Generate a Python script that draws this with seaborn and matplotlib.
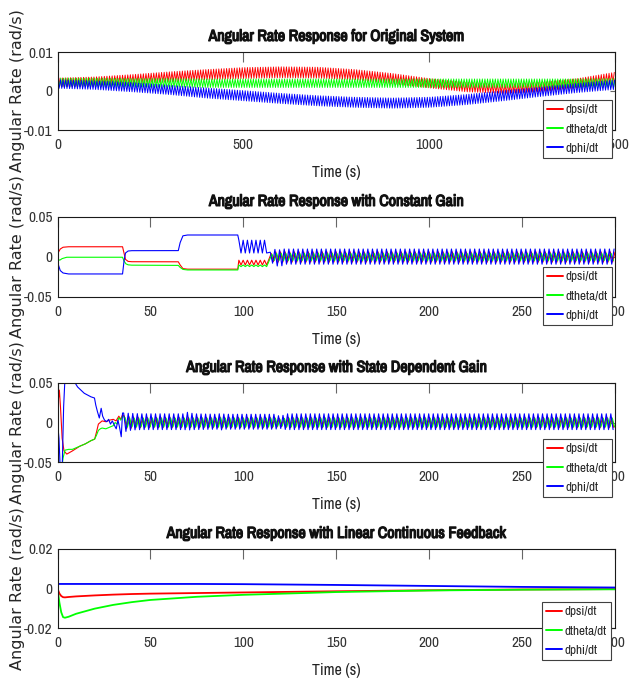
import numpy as np
import pandas as pd
import matplotlib
matplotlib.use("Agg")
import matplotlib.pyplot as plt
import matplotlib.patheffects as pe
import seaborn as sns
from matplotlib import font_manager as fm
from matplotlib.ticker import FixedLocator, FixedFormatter

# ---------------- data ----------------
SERIES = ["dpsi/dt", "dtheta/dt", "dphi/dt"]
COLORS = ["#ff0000", "#00ff00", "#0000ff"]
TITLES = ["Angular Rate Response for Original System",
          "Angular Rate Response with Constant Gain",
          "Angular Rate Response with State Dependent Gain",
          "Angular Rate Response with Linear Continuous Feedback"]
XLABEL = "Time (s)"
YLABEL = "Angular Rate (rad/s)"

# Panel 1: dense oscillation -> envelope centre / half amplitude, period
P1_T = [0, 100, 200, 300, 400, 500, 600, 700, 800, 900, 1000, 1100, 1200, 1300, 1400, 1500]
psi1_c = [0.0022, 0.0025, 0.0030, 0.0036, 0.0042, 0.0046, 0.0048, 0.0047, 0.0042, 0.0032,
          0.0020, 0.0010, 0.0006, 0.0010, 0.0020, 0.0035]
theta1_c = [0.0022, 0.0022, 0.0021, 0.0021, 0.0020, 0.0020, 0.0020, 0.0020, 0.0020, 0.0020,
            0.0020, 0.0020, 0.0020, 0.0020, 0.0020, 0.0021]
phi1_c = [0.0018, 0.0015, 0.0010, 0.0003, -0.0005, -0.0012, -0.0019, -0.0025, -0.0029, -0.0031,
          -0.0029, -0.0022, -0.0012, -0.0002, 0.0008, 0.0016]
psi1_a = [0.0011, 0.0011, 0.0012, 0.0013, 0.0013, 0.0014, 0.0014, 0.0014, 0.0013, 0.0013,
          0.0012, 0.0012, 0.0012, 0.0012, 0.0012, 0.0013]
theta1_a = [0.0011] * 16
phi1_a = [0.0011, 0.0011, 0.0012, 0.0012, 0.0013, 0.0013, 0.0013, 0.0013, 0.0013, 0.0013,
          0.0013, 0.0013, 0.0013, 0.0012, 0.0012, 0.0012]
P1_PERIOD = 7.0

# Panel 2: constant gain, smooth part (t, value)
psi2_t = [0, 0.5, 1.5, 3, 6, 35, 35.8, 36.6, 38, 40, 65, 66, 67.5, 70, 97]
psi2_v = [0, 0.006, 0.010, 0.0122, 0.0128, 0.0128, 0.005, -0.003, -0.0055, -0.0059, -0.0060,
          -0.010, -0.0145, -0.0152, -0.0152]
theta2_t = [0, 0.5, 1.2, 2.5, 5, 35, 35.8, 36.8, 38, 40, 65, 66, 67.5, 70, 97]
theta2_v = [0, -0.003, -0.004, -0.002, -0.0003, -0.0003, -0.005, -0.0085, -0.0098, -0.0102,
            -0.0105, -0.013, -0.0155, -0.0162, -0.0162]
phi2_t = [0, 0.5, 1.5, 3, 6, 35, 35.8, 36.6, 38, 40, 65, 66, 67.5, 70, 97]
phi2_v = [0, -0.010, -0.017, -0.020, -0.0212, -0.0212, -0.005, 0.005, 0.0075, 0.0079, 0.0080,
          0.018, 0.0265, 0.0275, 0.0275]
# Panel 2 oscillating parts: (start, end) and centre / half amplitude
P2_PERIOD_A = 2.3
P2_SEG_A = (97.6, 113.4)
psi2_a_c, psi2_a_a = -0.007, 0.003
theta2_a_c, theta2_a_a = -0.011, 0.0010
phi2_a_c, phi2_a_a = 0.013, 0.008
P2_PERIOD_B = 2.5
P2_SEG_B = (114.5, 300)
P2B_T = [114.5, 117, 119.5, 122, 300]
psi2_b_c = [0.0, 0.0, 0.0, 0.0, 0.0]
psi2_b_a = [0.004, 0.0063, 0.0063, 0.0063, 0.0063]
theta2_b_c = [0.0, 0.0, 0.0, 0.0, 0.0]
theta2_b_a = [0.003, 0.0045, 0.0045, 0.0045, 0.0045]
phi2_b_c = [0.0, 0.0, -0.002, 0.0005, 0.0005]
phi2_b_a = [0.006, 0.0095, 0.011, 0.0095, 0.0095]

# Panel 3: state dependent gain, transient part (t, value)
psi3_t = [0, 0.5, 1.0, 1.6, 2.5, 3.5, 5, 6.5, 8, 10, 12, 15, 18, 20, 21, 22, 23, 24, 26, 28, 30,
          31.5, 33, 34, 35]
psi3_v = [0, 0.030, 0.041, 0.020, -0.020, -0.036, -0.040, -0.038, -0.036, -0.033, -0.030,
          -0.027, -0.023, -0.021, -0.012, -0.002, 0.000, 0.002, 0.001, 0.003, 0.004, 0.002,
          0.008, 0.004, 0.010]
theta3_t = [0, 0.5, 1.0, 2.0, 3.0, 4.0, 6, 8, 10, 12, 15, 18, 20, 21, 22, 23, 24, 26, 28, 30,
            31, 32, 33, 34, 35]
theta3_v = [0, -0.040, -0.070, -0.065, -0.045, -0.035, -0.034, -0.034, -0.032, -0.030, -0.027,
            -0.023, -0.021, -0.016, -0.010, -0.008, -0.007, -0.008, -0.006, -0.004, 0.000,
            -0.002, 0.006, 0.003, 0.008]
phi3_t = [0, 0.8, 1.5, 2.5, 3.3, 4, 5.4, 6.5, 9, 10.8, 14.4, 18, 19.9, 20.6, 21.5, 22.5, 23.5,
          24.3, 25.3, 26.5, 27.5, 28.5, 29.5, 30.5, 31.6, 32.5, 33.3, 34.3, 35]
phi3_v = [0, -0.020, -0.060, -0.060, 0.020, 0.055, 0.052, 0.056, 0.052, 0.045, 0.037, 0.0325,
          0.031, 0.022, 0.0137, 0.0057, 0.018, 0.008, 0.003, 0.001, 0.004, -0.002, 0.002,
          -0.003, -0.008, 0.003, -0.005, -0.018, 0.012]
P3_PERIOD = 2.45
P3_SEG = (35.6, 300)
P3_T = [35.6, 40, 45, 68, 70.5, 73, 86, 88, 90, 117, 120, 123, 300]
psi3_c = [0.0] * 13
psi3_a = [0.008, 0.007, 0.0065, 0.0065, 0.0065, 0.0065, 0.0065, 0.007, 0.0065, 0.0065, 0.005,
          0.0065, 0.0065]
theta3_c = [0.0] * 13
theta3_a = [0.006, 0.0055, 0.0055, 0.0055, 0.0055, 0.0055, 0.0055, 0.006, 0.0055, 0.0055,
            0.004, 0.0055, 0.0055]
phi3_c = [0.0, 0.001, 0.001, 0.001, 0.002, 0.001, 0.001, 0.001, 0.001, 0.001, 0.0, 0.001, 0.001]
phi3_a = [0.012, 0.0105, 0.0100, 0.0100, 0.0115, 0.0100, 0.0095, 0.0105, 0.0095, 0.0095,
          0.0075, 0.0100, 0.0100]

# Panel 4: linear continuous feedback (smooth)
P4_T = [0, 1, 2, 3, 4, 6, 10, 20, 30, 40, 50, 75, 100, 150, 200, 250, 300]
psi4 = [0, -0.0025, -0.0038, -0.0044, -0.0045, -0.0043, -0.0040, -0.0035, -0.0031, -0.0028,
        -0.0026, -0.0023, -0.0020, -0.0014, -0.0009, -0.0005, -0.0003]
theta4 = [0, -0.0070, -0.0120, -0.0145, -0.0148, -0.0143, -0.0128, -0.0102, -0.0083, -0.0069,
          -0.0058, -0.0042, -0.0032, -0.0018, -0.0010, -0.0006, -0.0004]
phi4 = [0.0023, 0.0023, 0.0023, 0.0023, 0.0023, 0.0023, 0.0023, 0.0023, 0.0023, 0.0023, 0.0023,
        0.0023, 0.0022, 0.0018, 0.0013, 0.0008, 0.0005]

# axes setup
XLIMS = [(0, 1500), (0, 300), (0, 300), (0, 300)]
XTICKS = [[0, 500, 1000, 1500], [0, 50, 100, 150, 200, 250, 300],
          [0, 50, 100, 150, 200, 250, 300], [0, 50, 100, 150, 200, 250, 300]]
YLIMS = [(-0.01, 0.01), (-0.05, 0.05), (-0.05, 0.05), (-0.02, 0.02)]
YTICKS = [[-0.01, 0, 0.01], [-0.05, 0, 0.05], [-0.05, 0, 0.05], [-0.02, 0, 0.02]]
YTICKLABELS = [["-0.01", "0", "0.01"], ["-0.05", "0", "0.05"],
               ["-0.05", "0", "0.05"], ["-0.02", "0", "0.02"]]

# ---------------- helpers ----------------
def zigzag(seg, period, key_t, centre, amp, phase=0.0):
    ts = np.arange(seg[0] + phase, seg[1] + 1e-9, period / 2.0)
    c = np.interp(ts, key_t, centre)
    a = np.interp(ts, key_t, amp)
    sgn = np.where(np.arange(len(ts)) % 2 == 0, 1.0, -1.0)
    return ts, c + sgn * a


def frame(parts):
    rows = []
    for name, (t, v) in parts:
        rows.append(pd.DataFrame({"Time": np.asarray(t, float), "Rate": np.asarray(v, float),
                                  "Signal": name}))
    return pd.concat(rows, ignore_index=True)


def join(*segs):
    t = np.concatenate([np.asarray(s[0], float) for s in segs])
    v = np.concatenate([np.asarray(s[1], float) for s in segs])
    return t, v


df1 = frame([
    (SERIES[0], zigzag((0, 1500), P1_PERIOD, P1_T, psi1_c, psi1_a, 0.0)),
    (SERIES[1], zigzag((0, 1500), P1_PERIOD, P1_T, theta1_c, theta1_a, 2.0)),
    (SERIES[2], zigzag((0, 1500), P1_PERIOD, P1_T, phi1_c, phi1_a, 1.0)),
])

df2 = frame([
    (SERIES[0], join((psi2_t, psi2_v),
                     zigzag(P2_SEG_A, P2_PERIOD_A, [0, 300], [psi2_a_c] * 2, [psi2_a_a] * 2),
                     zigzag(P2_SEG_B, P2_PERIOD_B, P2B_T, psi2_b_c, psi2_b_a, 0.5))),
    (SERIES[1], join((theta2_t, theta2_v),
                     zigzag(P2_SEG_A, P2_PERIOD_A, [0, 300], [theta2_a_c] * 2, [theta2_a_a] * 2),
                     zigzag(P2_SEG_B, P2_PERIOD_B, P2B_T, theta2_b_c, theta2_b_a, 0.9))),
    (SERIES[2], join((phi2_t, phi2_v),
                     zigzag(P2_SEG_A, P2_PERIOD_A, [0, 300], [phi2_a_c] * 2, [phi2_a_a] * 2),
                     zigzag(P2_SEG_B, P2_PERIOD_B, P2B_T, phi2_b_c, phi2_b_a, 0.0))),
])

df3 = frame([
    (SERIES[0], join((psi3_t, psi3_v), zigzag(P3_SEG, P3_PERIOD, P3_T, psi3_c, psi3_a, 0.4))),
    (SERIES[1], join((theta3_t, theta3_v), zigzag(P3_SEG, P3_PERIOD, P3_T, theta3_c, theta3_a, 0.8))),
    (SERIES[2], join((phi3_t, phi3_v), zigzag(P3_SEG, P3_PERIOD, P3_T, phi3_c, phi3_a, 0.0))),
])

df4 = frame([
    (SERIES[0], (P4_T, psi4)),
    (SERIES[1], (P4_T, theta4)),
    (SERIES[2], (P4_T, phi4)),
])

FRAMES = [df1, df2, df3, df4]
LINEWIDTHS = [0.65, 0.8, 0.8, 1.3]

# ---------------- style / layout ----------------
sns.set_style("white")
# prefer a condensed sans (reference text is horizontally squeezed)
STRETCH = "normal"
NARROW = "Liberation Sans"
_fonts = fm.fontManager.ttflist
_narrow = [f for f in _fonts if "Narrow" in f.name or "Condensed" in f.name]
_cond = [f for f in _fonts if f.name in ("DejaVu Sans", "Noto Sans", "Open Sans", "Roboto")
         and str(f.stretch) in ("condensed", "semi-condensed", "extra-condensed", "500", "300")]
if _narrow:
    NARROW = _narrow[0].name
elif _cond:
    NARROW = _cond[0].name
    STRETCH = "condensed"
plt.rcParams["font.family"] = [NARROW, "DejaVu Sans"]
plt.rcParams["font.stretch"] = STRETCH

W, H = 644, 687
fig = plt.figure(figsize=(W / 100, H / 100), dpi=100)
AX_LEFT, AX_RIGHT = 57.5, 615
AX_TB = [(52, 130), (217, 297), (383, 462), (549, 628)]
LEG_TL = [(543, 100), (543, 267), (543, 439), (542, 602)]
BOLD = [pe.withStroke(linewidth=0.9, foreground="#111111")]

for i in range(4):
    top, bot = AX_TB[i]
    ax = fig.add_axes([AX_LEFT / W, 1 - bot / H, (AX_RIGHT - AX_LEFT) / W, (bot - top) / H])
    sns.lineplot(data=FRAMES[i], x="Time", y="Rate", hue="Signal", hue_order=SERIES,
                 palette=COLORS, estimator=None, sort=False, lw=LINEWIDTHS[i], ax=ax)
    ax.set_xlim(*XLIMS[i])
    ax.set_ylim(*YLIMS[i])
    ax.xaxis.set_major_locator(FixedLocator(XTICKS[i]))
    ax.xaxis.set_major_formatter(FixedFormatter([str(v) for v in XTICKS[i]]))
    ax.yaxis.set_major_locator(FixedLocator(YTICKS[i]))
    ax.yaxis.set_major_formatter(FixedFormatter(YTICKLABELS[i]))
    ax.tick_params(axis="both", direction="in", top=True, right=True, labelsize=11,
                   colors="#333333", width=0.8)
    ax.tick_params(axis="x", length=7, pad=6, color="#666666")
    ax.tick_params(axis="y", length=3.5, pad=3.5, color="#666666")
    for sp in ax.spines.values():
        sp.set_color("#1a1a1a")
        sp.set_linewidth(0.8)
    ax.set_title(TITLES[i], fontsize=11.5, fontweight="bold", pad=8, color="#111111",
                 path_effects=BOLD)
    ax.set_xlabel(XLABEL, fontsize=11.5, labelpad=9, color="#222222")
    ax.set_ylabel(YLABEL, fontsize=11.5, color="#262626", family=["DejaVu Sans"],
                  fontstretch="normal")
    ax.yaxis.set_label_coords(-0.058, 0.5)

    old = ax.get_legend()
    handles = old.legend_handles
    labels = [t.get_text() for t in old.get_texts()]
    old.remove()
    for h in handles:
        h.set_linewidth(1.4)
    lx, ly = LEG_TL[i]
    leg = ax.legend(handles, labels, loc="upper left", bbox_to_anchor=(lx / W, 1 - ly / H),
                    bbox_transform=fig.transFigure, borderaxespad=0, frameon=True,
                    fancybox=False, framealpha=1, edgecolor="#404040", fontsize=9.5,
                    handlelength=1.25, handletextpad=0.15, labelspacing=0.62, borderpad=0.3)
    leg.get_frame().set_linewidth(0.8)

fig.savefig("out.png", dpi=100)
